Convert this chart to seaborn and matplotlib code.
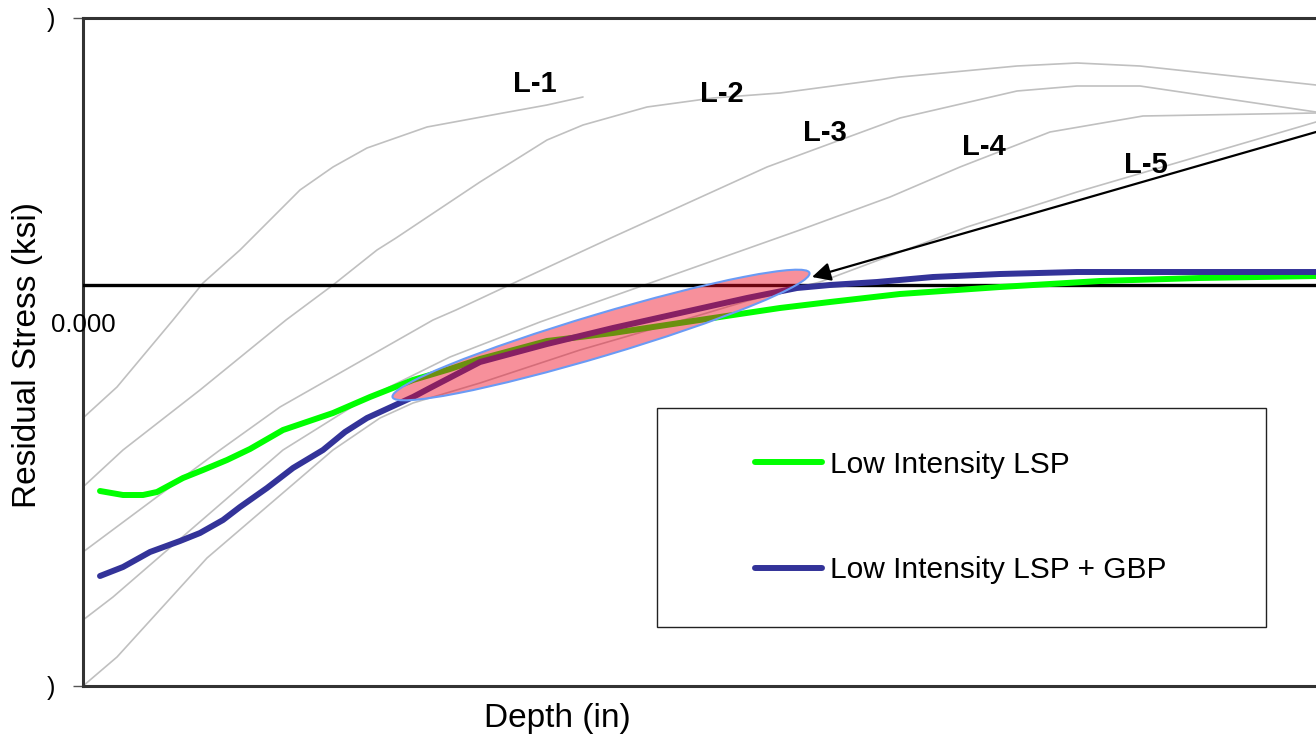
import matplotlib
matplotlib.use("Agg")
import matplotlib.pyplot as plt
import matplotlib.transforms as mtransforms
from matplotlib.patches import Ellipse, Rectangle
from matplotlib.lines import Line2D
import seaborn as sns
import pandas as pd

# ---------------- data (depth in inches, stress in ksi) ----------------
depth_L1 = [0.0000, 0.0034, 0.0090, 0.0120, 0.0157, 0.0217, 0.0250, 0.0284, 0.0344, 0.0420, 0.0464, 0.0500]
stress_L1 = [-13.3, -10.2, -3.5, 0.2, 3.5, 9.5, 11.8, 13.7, 15.8, 17.2, 18.0, 18.8]

depth_L2 = [0.0000, 0.0040, 0.0117, 0.0203, 0.0250, 0.0294, 0.0313, 0.0397, 0.0464, 0.0500, 0.0564,
            0.0630, 0.0697, 0.0817, 0.0934, 0.0994, 0.1057, 0.1233]
stress_L2 = [-20.2, -16.5, -10.5, -3.5, 0.0, 3.5, 4.7, 10.3, 14.5, 16.0, 17.8,
             18.7, 19.2, 20.8, 21.9, 22.2, 21.9, 20.0]

depth_L3 = [0.0000, 0.0137, 0.0197, 0.0350, 0.0373, 0.0420, 0.0530, 0.0684, 0.0730, 0.0817, 0.0934,
            0.0994, 0.1057, 0.1233]
stress_L3 = [-26.7, -16.5, -12.2, -3.5, -2.5, -0.3, 4.8, 11.8, 13.5, 16.7, 19.4,
             19.9, 19.9, 17.3]

depth_L4 = [0.0000, 0.0030, 0.0200, 0.0280, 0.0367, 0.0457, 0.0717, 0.0807, 0.0877, 0.0967, 0.1060, 0.1233]
stress_L4 = [-33.5, -31.2, -16.5, -11.5, -7.2, -3.7, 5.5, 8.8, 11.8, 15.3, 16.9, 17.2]

depth_L5 = [0.0000, 0.0034, 0.0124, 0.0250, 0.0297, 0.0330, 0.0397, 0.0497, 0.0597, 0.0664, 0.0737,
            0.0884, 0.0994, 0.1233]
stress_L5 = [-40.1, -37.2, -27.3, -16.5, -13.3, -11.8, -9.8, -6.5, -3.6, -1.6, 0.3,
             5.8, 9.3, 16.3]

depth_green = [0.0017, 0.0040, 0.0060, 0.0074, 0.0100, 0.0120, 0.0144, 0.0167, 0.0200, 0.0250, 0.0287,
               0.0330, 0.0367, 0.0397, 0.0464, 0.0530, 0.0630, 0.0697, 0.0747, 0.0817, 0.0917, 0.1017,
               0.1117, 0.1233]
stress_green = [-20.6, -21.0, -21.0, -20.7, -19.3, -18.5, -17.5, -16.4, -14.5, -12.8, -11.2,
                -9.5, -8.4, -7.4, -5.6, -4.8, -3.3, -2.3, -1.7, -0.9, -0.2, 0.4,
                0.7, 0.9]

depth_blue = [0.0017, 0.0040, 0.0067, 0.0097, 0.0117, 0.0140, 0.0157, 0.0184, 0.0210, 0.0240, 0.0262,
              0.0284, 0.0330, 0.0347, 0.0397, 0.0464, 0.0530, 0.0597, 0.0664, 0.0714, 0.0747, 0.0794,
              0.0850, 0.0917, 0.0994, 0.1233]
stress_blue = [-29.1, -28.2, -26.7, -25.6, -24.8, -23.5, -22.2, -20.3, -18.3, -16.5, -14.7,
               -13.3, -11.2, -10.3, -7.7, -5.9, -4.3, -2.8, -1.3, -0.3, 0.0, 0.3,
               0.8, 1.1, 1.3, 1.3]

curve_names = ["L-1", "L-2", "L-3", "L-4", "L-5"]
label_depth = [0.0452, 0.0639, 0.0742, 0.0901, 0.1063]
label_stress = [20.1, 19.1, 15.2, 13.8, 12.0]

series_names = ["Low Intensity LSP", "Low Intensity LSP + GBP"]
ytick_vals = [-40.1, 26.7]
ytick_labels = [")", ")"]

# highlighted region (ellipse) and arrow
ellipse_center = (0.0518, -5.0)
arrow_tip = (0.0729, 0.8)
arrow_tail = (0.1233, 15.3)

# ---------------- figure ----------------
sns.set_style("white")
plt.rcParams["font.family"] = ["Liberation Sans", "DejaVu Sans"]
plt.rcParams["text.color"] = "black"
plt.rcParams["axes.labelcolor"] = "black"
plt.rcParams["ytick.labelcolor"] = "black"

fig = plt.figure(figsize=(13.16, 7.38), dpi=100)
ax = fig.add_axes([83 / 1316, (738 - 686) / 738, 1233 / 1316, 668 / 738])

gray_frames = []
for name, d, s in zip(curve_names, [depth_L1, depth_L2, depth_L3, depth_L4, depth_L5],
                      [stress_L1, stress_L2, stress_L3, stress_L4, stress_L5]):
    gray_frames.append(pd.DataFrame({"depth": d, "stress": s, "curve": name}))
gray_df = pd.concat(gray_frames, ignore_index=True)

sns.lineplot(data=gray_df, x="depth", y="stress", units="curve", estimator=None, sort=False,
             color="#C0C0C0", lw=1.2, ax=ax, zorder=2)

ax.axhline(0, color="black", lw=2.4, zorder=3)

green_df = pd.DataFrame({"depth": depth_green, "stress": stress_green})
blue_df = pd.DataFrame({"depth": depth_blue, "stress": stress_blue})
sns.lineplot(data=green_df, x="depth", y="stress", sort=False, estimator=None,
             color="#00FF00", lw=4.3, ax=ax, zorder=4)
sns.lineplot(data=blue_df, x="depth", y="stress", sort=False, estimator=None,
             color="#333399", lw=4.3, ax=ax, zorder=4)

for name, x, y in zip(curve_names, label_depth, label_stress):
    ax.text(x, y, name, fontsize=21, fontweight="bold", ha="center", va="center",
            color="black", zorder=6)

ax.set_xlim(0, 0.1233)
ax.set_ylim(-40.1, 26.7)

# ellipse drawn in pixel units, mapped to data
sx = (ax.get_xlim()[1] - ax.get_xlim()[0]) / 1233.0
sy = (ax.get_ylim()[1] - ax.get_ylim()[0]) / 668.0
ell_tr = mtransforms.Affine2D().scale(sx, sy).translate(*ellipse_center) + ax.transData
ell = Ellipse((0, 0), width=435, height=42, angle=16.6, transform=ell_tr,
              facecolor=(238 / 255, 9 / 255, 35 / 255, 0.45), edgecolor="#6A9BF5", lw=1.5, zorder=5)
ax.add_patch(ell)

ax.annotate("", xy=arrow_tip, xytext=arrow_tail,
            arrowprops=dict(arrowstyle="-|>", color="black", lw=1.6, mutation_scale=28,
                            shrinkA=0, shrinkB=0),
            annotation_clip=False, zorder=7)

# legend box
box = Rectangle(((657 - 83) / 1233, 1 - (627 - 18) / 668), (1266 - 657) / 1233, (627 - 408) / 668,
                transform=ax.transAxes, facecolor="white", edgecolor="#222222", lw=1.0, zorder=8)
ax.add_patch(box)
handles = [Line2D([], [], color="#00FF00", lw=4.3), Line2D([], [], color="#333399", lw=4.3)]
leg = ax.legend(handles, series_names, loc="center left",
                bbox_to_anchor=((755 - 83) / 1233, 1 - (517.5 - 18) / 668),
                frameon=False, fontsize=21.5, handlelength=2.25, handletextpad=0.25,
                labelspacing=2.6, borderpad=0, borderaxespad=0)
for t in leg.get_texts():
    t.set_color("black")
leg.set_zorder(9)

# axes styling
for side in ["top", "left", "bottom"]:
    ax.spines[side].set_color("#333333")
    ax.spines[side].set_linewidth(2.2)
ax.spines["right"].set_visible(False)
ax.set_xticks([])
ax.set_yticks(ytick_vals)
ax.set_yticklabels(ytick_labels)
ax.tick_params(axis="y", left=True, length=7, width=1.0, color="#555555", pad=13, labelsize=18,
               labelcolor="black")

ax.set_xlabel("Depth (in)", fontsize=24, va="center", color="black")
ax.xaxis.set_label_coords((557 - 83) / 1233, 1 - (718 - 18) / 668)
ax.set_ylabel("Residual Stress (ksi)", fontsize=24, va="center", color="black")
ax.yaxis.set_label_coords((28 - 83) / 1233, 1 - (355 - 18) / 668)

ax.text(0.5 / 1233, 1 - (325 - 18) / 668, "0.000", transform=ax.transAxes, fontsize=18.5,
        ha="center", va="center", color="black", zorder=10)

fig.savefig("out.png", dpi=100)
